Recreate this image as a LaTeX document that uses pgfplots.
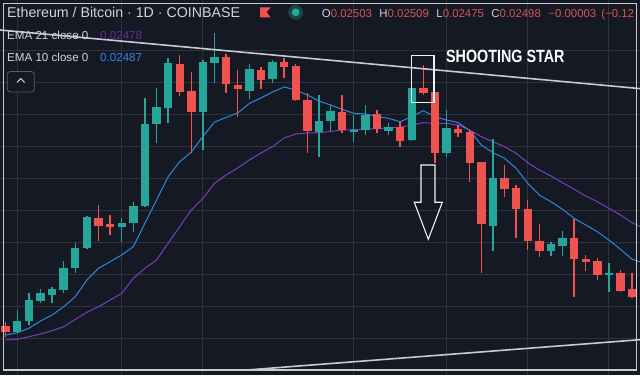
\documentclass[border=0pt]{standalone}
\usepackage{pgfplots}
\usepackage{pgfplotstable}
\pgfplotsset{compat=1.18}
\usepackage{fontspec}
\setmainfont{Liberation Sans}
\definecolor{bg}{HTML}{151924}
\definecolor{gridc}{HTML}{2E323D}
\definecolor{up}{HTML}{26A69A}
\definecolor{down}{HTML}{EF5350}
\definecolor{emablue}{HTML}{2F86E0}
\definecolor{emapurple}{HTML}{7A3FB8}
\definecolor{emapurpletxt}{HTML}{6A2C9C}
\definecolor{txt}{HTML}{D1D4DC}
\definecolor{ohlc}{HTML}{D95450}
\definecolor{framec}{HTML}{C8CACF}

% candle index, open, high, low, close (price units)
\pgfplotstableread{
i o h l c
2 43.3 65 42 54.3
3 54.3 82 50 75
4 74 85.7 72.3 81.7
5 80 88.3 72.3 85.7
6 85 114 81.7 106.7
7 106.7 131.7 102.3 126.7
8 126.7 159 125.7 157.7
11 147.7 157.3 133.3 151.7
12 152.3 173.3 143.3 169
13 169 276.7 168.3 250.7
14 251.3 286.7 232.3 267.7
15 267.3 316.7 252.3 312.3
18 263.3 315 225 313.3
19 312.3 341.7 291.7 317.7
22 284.3 311 275.7 305.7
24 295.7 315 292.3 312.7
28 243.3 280 218.3 254
29 254.3 270 244.3 264.3
31 243 260 233.3 245
32 245 270 240 260
34 244.3 251.7 240 247.7
36 235 287.3 234.3 287.3
39 221.7 265 218.3 246.7
43 149.3 235.7 124.3 196.7
48 124.3 133.3 119.3 130.7
49 129 144.3 119 137.3
53 100 111.7 83.3 102.3
}\upT

\pgfplotstableread{
i o h l c
1 49.3 53.3 38.3 43.3
9 157.3 169.7 134.3 149
10 150.7 160 140 147.7
16 311 320 279 283.3
17 284.3 302.7 221.7 263.3
20 317.7 321 282.3 290.7
21 290 305 257.7 285.7
23 305 308.3 285.7 295
25 312.7 316.7 296.7 308.3
26 309 311 274 275
27 274.7 282.3 222.3 244.3
30 263.3 280 242.3 245
33 261 265 242.3 245.7
35 247.7 253.3 228.3 234.3
37 286.7 310 280 281.7
38 283.3 283.3 211.7 221.7
40 245.7 250 238.3 241.7
41 242.7 245 193.3 212.3
42 213.3 213.3 101.7 150.7
44 196.7 210 178.3 185.7
45 186.7 190 136.7 166
46 165.7 175 125 134.3
47 134 151 117.7 124.3
50 137.3 155.7 78.3 115.7
51 116.3 120 104.3 113.3
52 114.3 116.7 95 100
54 102.3 105 83.3 84
55 86 102.3 76.7 78.3
}\downT

\pgfplotstableread{
i v
1 40
2 42.3
3 46.7
4 54
5 60
6 68.3
7 78.3
8 95
9 106.7
10 113.3
11 120
12 128.3
13 151.7
14 175
15 198.3
16 213.3
17 223
18 238.5
19 253
20 257.5
21 262
22 271.5
23 277
24 283
25 288
26 285
27 280
28 274
29 270
30 265.7
31 261.7
32 261
33 258.5
34 256.7
35 253.3
36 258.3
37 264.3
38 258.3
39 255
40 252.5
41 244.5
42 230
43 222.3
44 216.7
45 206.7
46 191.7
47 180
48 173.3
49 165.7
50 156.7
51 150
52 143.3
53 135
54 125.7
55 115.7
55.7 113
}\ematen

\pgfplotstableread{
i v
1 35
2 35.7
3 38.3
4 41
5 44.3
6 48.3
7 55.7
8 62.7
9 68.3
10 75
11 81.7
12 96.7
13 106.7
14 115
15 131.7
16 148.3
17 165
18 176.7
19 191.7
20 200
21 207
22 215
23 222
24 228.3
25 237
26 241
27 242
28 242.3
29 243.5
30 245
31 245.3
32 245.7
33 246.5
34 247
35 247.7
36 250
37 252.3
38 251.7
39 251.7
40 250
41 245
42 238.3
43 233.3
44 228.3
45 221.7
46 212.3
47 205
48 199
49 192.3
50 185.7
51 179
52 173.3
53 166.7
54 160
55 152.3
55.7 148.3
}\ematwentyone

\pgfplotsset{
  candle/.style 2 args={only marks, mark=*, mark size=0pt,
    mark options={draw opacity=0, fill opacity=0},
    error bars/.cd, y dir=plus, y explicit, error mark=none,
    error bar style={#1, line width=#2, opacity=1}},
}

\begin{document}
\begin{tikzpicture}
\begin{axis}[
  at={(0,0)}, anchor=south west,
  width=640pt, height=375pt, scale only axis,
  xmin=0.509, xmax=55.68, ymin=0, ymax=375,
  axis line style={draw=none},
  xtick={2,11,18,31,39,46,53},
  ytick={36.7,68.65,100.6,132.55,164.5,196.45,228.4,260.35,292.3,324.25},
  xticklabels={}, yticklabels={},
  major tick length=0pt,
  grid=major, grid style={gridc, line width=0.9pt},
  axis background/.style={fill=bg},
]
% EMA lines
\addplot[emapurple, line width=1pt, mark=none] table[x=i, y=v] {\ematwentyone};
\addplot[emablue, line width=1pt, mark=none] table[x=i, y=v] {\ematen};
% wicks
\addplot[candle={up}{1.3pt}]
  table[x=i, y=l, y error expr=\thisrow{h}-\thisrow{l}] {\upT};
\addplot[candle={down}{1.3pt}]
  table[x=i, y=l, y error expr=\thisrow{h}-\thisrow{l}] {\downT};
% bodies
\addplot[candle={up}{8.4pt}]
  table[x=i, y=o, y error expr=\thisrow{c}-\thisrow{o}] {\upT};
\addplot[candle={down}{8.4pt}]
  table[x=i, y=c, y error expr=\thisrow{o}-\thisrow{c}] {\downT};
% trend lines
\addplot[framec, line width=1.6pt, mark=none] coordinates {(0.509,345) (55.68,286.4)};
\addplot[framec, line width=1.6pt, mark=none] coordinates {(21.78,5) (55.68,35.3)};
\end{axis}

\begin{scope}[x=1pt, y=-1pt, shift={(0pt,375pt)}]
  % frame
  \draw[framec, line width=1.2pt] (3.3,3.3) rectangle (636.7,370);
  % header
  \node[anchor=base west, inner sep=0pt, text=txt, font=\fontsize{14.2}{16}\selectfont] at (7,17.3)
    {Ethereum / Bitcoin · 1D · COINBASE};
  \fill[down] (260,7.3) -- (270.7,7.3) -- (266.5,12.3) -- (270.7,17.3) -- (260,17.3) -- cycle;
  \fill[up!30!bg] (295.7,12.3) circle (7.5);
  \fill[up] (295.7,12.3) circle (3.9);
  \node[anchor=base west, inner sep=0pt, font=\fontsize{11.4}{13}\selectfont] at (321.7,17.3)
    {\textcolor{txt}{O}\textcolor{ohlc}{0.02503}\hspace{7.5pt}\textcolor{txt}{H}\textcolor{ohlc}{0.02509}\hspace{7.5pt}\textcolor{txt}{L}\textcolor{ohlc}{0.02475}\hspace{7.5pt}\textcolor{txt}{C}\textcolor{ohlc}{0.02498}\hspace{7.5pt}\textcolor{ohlc}{−0.00003\hspace{2pt} (−0.12}};
  % legend
  \node[anchor=base west, inner sep=0pt, text=txt, font=\fontsize{11.6}{13}\selectfont] at (7,40) {EMA 21 close 0};
  \node[anchor=base west, inner sep=0pt, text=emapurpletxt, font=\fontsize{11.6}{13}\selectfont] at (100,40) {0.02478};
  \node[anchor=base west, inner sep=0pt, text=txt, font=\fontsize{11.6}{13}\selectfont] at (7,61.7) {EMA 10 close 0};
  \node[anchor=base west, inner sep=0pt, text=emablue, font=\fontsize{11.6}{13}\selectfont] at (100,61.7) {0.02487};
  \draw[gridc!80!white, line width=0.8pt, rounded corners=3pt, fill=bg] (7.3,71.5) rectangle (34.3,92);
  \draw[txt, line width=1pt] (17,82.5) -- (20.8,78.5) -- (24.6,82.5);
  % shooting star annotation
  \draw[white!90!gray, line width=1.1pt] (411.7,55.7) rectangle (434,102.7);
  \node[anchor=base west, inner sep=0pt, text=white, font=\bfseries\fontsize{17.7}{20}\selectfont, xscale=0.81] at (446,62.7) {SHOOTING STAR};
  \draw[white!90!gray, line width=1.1pt] (421,165) -- (435,165) -- (435,202.3) -- (442.3,202.3) -- (428.3,239.3) -- (414.3,202.3) -- (421,202.3) -- cycle;
\end{scope}
\pgfresetboundingbox
\path[use as bounding box] (0,0) rectangle (640pt,375pt);
\end{tikzpicture}
\end{document}
